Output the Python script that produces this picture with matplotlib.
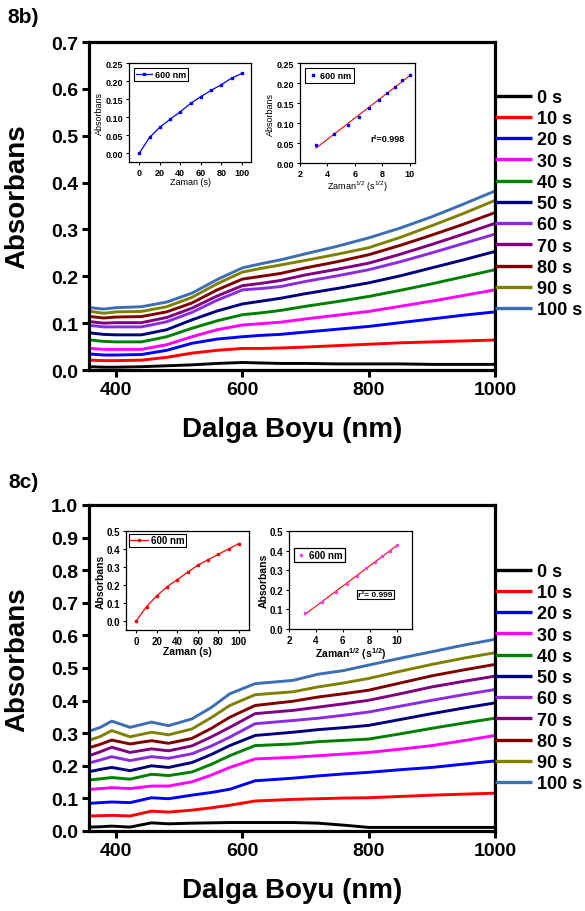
import matplotlib
matplotlib.use('Agg')
import matplotlib.pyplot as plt
import numpy as np

plt.rcParams['font.family'] = ['Liberation Sans', 'DejaVu Sans']
plt.rcParams['mathtext.fontset'] = 'custom'
plt.rcParams['mathtext.rm'] = 'Liberation Sans'
plt.rcParams['mathtext.bf'] = 'Liberation Sans:bold'

# ---------------- data ----------------
labels = ['0 s', '10 s', '20 s', '30 s', '40 s', '50 s', '60 s', '70 s', '80 s', '90 s', '100 s']
colors = ['#000000', '#ff0000', '#0000ff', '#ff00ff', '#008000', '#000080',
          '#8a2be2', '#800080', '#800000', '#808000', '#3c6eb4']

# panel 8b spectra
wl_b = [360, 380, 400, 440, 480, 520, 560, 600, 630, 660, 700, 750, 800, 850, 900, 950, 1000]
b_0s = [.007, .006, .006, .007, .009, .011, .014, .016, .015, .014, .014, .013, .013, .013, .012, .012, .012]
b_10s = [.021, .020, .020, .021, .027, .036, .042, .046, .046, .047, .049, .052, .055, .058, .060, .062, .064]
b_20s = [.034, .032, .032, .033, .042, .057, .066, .071, .074, .076, .081, .087, .093, .101, .109, .117, .124]
b_30s = [.046, .044, .044, .044, .054, .071, .086, .096, .099, .102, .109, .117, .125, .136, .147, .159, .171]
b_40s = [.064, .061, .060, .060, .071, .089, .105, .118, .122, .127, .136, .146, .157, .170, .184, .199, .214]
b_50s = [.079, .076, .075, .075, .086, .107, .126, .141, .147, .153, .163, .174, .186, .201, .218, .235, .253]
b_60s = [.095, .092, .092, .092, .103, .123, .149, .171, .174, .178, .189, .201, .214, .231, .250, .270, .290]
b_70s = [.103, .100, .101, .101, .112, .132, .158, .180, .185, .191, .203, .215, .228, .247, .268, .290, .313]
b_80s = [.114, .111, .113, .114, .124, .143, .171, .194, .200, .206, .218, .231, .246, .266, .288, .311, .336]
b_90s = [.125, .121, .124, .125, .135, .155, .184, .209, .217, .224, .234, .247, .261, .283, .308, .334, .362]
b_100s = [.133, .130, .133, .135, .145, .164, .193, .218, .227, .235, .248, .264, .282, .303, .327, .354, .382]

# panel 8c spectra
wl_c = [360, 375, 393, 422, 456, 483, 520, 550, 580, 620, 680, 720, 760, 800, 850, 900, 950, 1000]
c_0s = [.012, .013, .015, .012, .025, .022, .024, .025, .026, .026, .026, .024, .018, .011, .011, .011, .011, .011]
c_10s = [.046, .047, .048, .046, .061, .058, .064, .071, .079, .092, .097, .099, .101, .102, .106, .110, .113, .116]
c_20s = [.085, .087, .089, .087, .102, .099, .110, .118, .128, .154, .162, .169, .175, .180, .188, .195, .205, .215]
c_30s = [.128, .130, .133, .130, .138, .138, .151, .171, .195, .221, .226, .231, .236, .241, .251, .262, .277, .293]
c_40s = [.157, .160, .164, .159, .174, .170, .181, .204, .231, .262, .267, .274, .278, .282, .298, .315, .331, .346]
c_50s = [.183, .189, .195, .185, .200, .195, .210, .234, .262, .293, .303, .311, .317, .324, .342, .360, .377, .393]
c_60s = [.210, .218, .228, .216, .228, .223, .237, .260, .288, .329, .339, .346, .355, .365, .383, .401, .418, .434]
c_70s = [.233, .243, .257, .241, .252, .246, .261, .288, .318, .360, .370, .380, .390, .401, .421, .442, .459, .475]
c_80s = [.257, .266, .279, .267, .277, .269, .284, .314, .349, .385, .398, .411, .421, .432, .454, .476, .494, .511]
c_90s = [.280, .290, .308, .289, .303, .295, .313, .347, .385, .418, .427, .442, .454, .468, .490, .511, .530, .547]
c_100s = [.308, .318, .337, .318, .334, .323, .344, .378, .421, .452, .462, .481, .492, .509, .530, .550, .570, .588]

# inset data (absorbance at 600 nm vs time)
time_s = [0, 10, 20, 30, 40, 50, 60, 70, 80, 90, 100]
a600_b = [0.000, 0.044, 0.072, 0.094, 0.115, 0.138, 0.157, 0.174, 0.190, 0.208, 0.221]
a600_c = [0.000, 0.080, 0.140, 0.190, 0.230, 0.270, 0.310, 0.340, 0.370, 0.400, 0.430]
r2_b = '0.998'
r2_c = '0.999'

spectra_b = [b_0s, b_10s, b_20s, b_30s, b_40s, b_50s, b_60s, b_70s, b_80s, b_90s, b_100s]
spectra_c = [c_0s, c_10s, c_20s, c_30s, c_40s, c_50s, c_60s, c_70s, c_80s, c_90s, c_100s]

# ---------------- figure ----------------
W, H = 585, 912
fig = plt.figure(figsize=(W / 100, H / 100), dpi=100)


def fx(px):
    return px / W


def fy(py):
    return 1 - py / H


def main_axes(top_px, bot_px, wl, spectra, ymax, leg_top_px):
    ax = fig.add_axes([fx(89), fy(bot_px), fx(495) - fx(89), fy(top_px) - fy(bot_px)])
    for s, c, lab in zip(spectra, colors, labels):
        ax.plot(wl, s, color=c, lw=2.1, label=lab, solid_capstyle='butt')
    ax.set_xlim(357, 1000)
    ax.set_ylim(0, ymax)
    ax.set_xticks([400, 600, 800, 1000])
    ax.set_xticklabels(['400', '600', '800', '1000'])
    yt = np.round(np.arange(0, ymax + 0.001, 0.1), 1)
    ax.set_yticks(yt)
    ax.set_yticklabels(['%.1f' % v for v in yt])
    for sp in ax.spines.values():
        sp.set_linewidth(2.3)
    ax.tick_params(direction='out', length=5, width=2.2, labelsize=14, pad=3)
    for t in ax.get_xticklabels() + ax.get_yticklabels():
        t.set_fontweight('bold')
    ax.set_xlabel('Dalga Boyu (nm)', fontsize=20, fontweight='bold')
    ax.set_ylabel('Absorbans', fontsize=20, fontweight='bold')
    ax.yaxis.set_label_coords(-0.145, 0.53)
    ax.xaxis.set_label_coords(0.5, -0.14)
    leg = ax.legend(loc='upper left', bbox_to_anchor=(fx(495), fy(leg_top_px)),
                    bbox_transform=fig.transFigure, frameon=False,
                    prop={'size': 13, 'weight': 'bold'}, handlelength=2.05,
                    handletextpad=0.3, labelspacing=0.235, borderpad=0, borderaxespad=0)
    for l in leg.get_lines():
        l.set_linewidth(2.4)
    return ax


def style_inset(ax, bold, fs):
    for sp in ax.spines.values():
        sp.set_linewidth(0.9)
    ax.tick_params(direction='out', length=2.5, width=0.8, labelsize=fs, pad=1.5)
    for t in ax.get_xticklabels() + ax.get_yticklabels():
        t.set_fontweight('bold')


# ---------- panel 8b ----------
ax_b = main_axes(43, 371, wl_b, spectra_b, 0.7, 90)
fig.text(fx(7), fy(8), '8b)', fontsize=15, fontweight='bold', ha='left', va='top')

ins1 = fig.add_axes([fx(129), fy(163), fx(251) - fx(129), fy(64) - fy(163)])
ins1.plot(time_s, a600_b, color='#0000ff', lw=0.9, marker='s', ms=2.0, label='600 nm')
ins1.set_xlim(-10, 109)
ins1.set_ylim(-0.024, 0.25)
ins1.set_xticks([0, 20, 40, 60, 80, 100])
ins1.set_yticks([0, 0.05, 0.10, 0.15, 0.20, 0.25])
ins1.set_yticklabels(['0.00', '0.05', '0.10', '0.15', '0.20', '0.25'])
style_inset(ins1, False, 6.5)
ins1.set_xlabel('Zaman (s)', fontsize=6.5, labelpad=0.5)
ins1.set_ylabel('Absorbans', fontsize=6.5, labelpad=1)
ins1.legend(loc='upper left', prop={'size': 6.5, 'weight': 'bold'}, fancybox=False,
            edgecolor='black', framealpha=1, handlelength=1.8, handletextpad=0.3,
            borderpad=0.2, borderaxespad=0.6).get_frame().set_linewidth(0.8)

sq_b = np.sqrt(time_s[1:])
ins2 = fig.add_axes([fx(300), fy(164), fx(415) - fx(300), fy(64) - fy(164)])
fit_b = np.polyfit(sq_b, a600_b[1:], 1)
xs_b = np.array([sq_b[0], sq_b[-1]])
ins2.plot(xs_b, np.polyval(fit_b, xs_b), color='#ff0000', lw=0.8)
ins2.plot(sq_b, a600_b[1:], ls='none', marker='s', ms=2.0, color='#0000ff', label='600 nm')
ins2.set_xlim(2, 10.4)
ins2.set_ylim(0, 0.25)
ins2.set_xticks([2, 4, 6, 8, 10])
ins2.set_yticks([0, 0.05, 0.10, 0.15, 0.20, 0.25])
ins2.set_yticklabels(['0.00', '0.05', '0.10', '0.15', '0.20', '0.25'])
style_inset(ins2, False, 6.5)
ins2.set_xlabel(r'Zaman$^{\mathregular{1/2}}$ (s$^{\mathregular{1/2}}$)', fontsize=6.5, labelpad=0.5)
ins2.set_ylabel('Absorbans', fontsize=6.5, labelpad=1)
ins2.legend(loc='upper left', prop={'size': 6.5, 'weight': 'bold'}, fancybox=False,
            edgecolor='black', framealpha=1, handlelength=1.0, handletextpad=0.3,
            borderpad=0.3, borderaxespad=0.6).get_frame().set_linewidth(0.8)
ins2.text(0.61, 0.25, 'r²=' + r2_b, transform=ins2.transAxes, fontsize=6.5,
          fontweight='bold', ha='left', va='center')

# ---------- panel 8c ----------
ax_c = main_axes(506, 832, wl_c, spectra_c, 1.0, 564)
fig.text(fx(8), fy(473), '8c)', fontsize=15, fontweight='bold', ha='left', va='top')

ins3 = fig.add_axes([fx(126), fy(631), fx(249) - fx(126), fy(532) - fy(631)])
ins3.plot(time_s, a600_c, color='#ff0000', lw=0.9, marker='s', ms=2.0, label='600 nm')
ins3.set_xlim(-10, 110)
ins3.set_ylim(-0.05, 0.5)
ins3.set_xticks([0, 20, 40, 60, 80, 100])
ins3.set_yticks([0, 0.1, 0.2, 0.3, 0.4, 0.5])
ins3.set_yticklabels(['0.0', '0.1', '0.2', '0.3', '0.4', '0.5'])
style_inset(ins3, True, 7)
ins3.set_xlabel('Zaman (s)', fontsize=7.5, fontweight='bold', labelpad=0.5)
ins3.set_ylabel('Absorbans', fontsize=7.5, fontweight='bold', labelpad=1)
ins3.legend(loc='upper left', prop={'size': 7, 'weight': 'bold'}, fancybox=False,
            edgecolor='black', framealpha=1, handlelength=1.8, handletextpad=0.3,
            borderpad=0.15, borderaxespad=0.3).get_frame().set_linewidth(0.8)

sq_c = np.sqrt(time_s[1:])
ins4 = fig.add_axes([fx(289), fy(630), fx(412) - fx(289), fy(532) - fy(630)])
fit_c = np.polyfit(sq_c, a600_c[1:], 1)
xs_c = np.array([sq_c[0], sq_c[-1]])
ins4.plot(xs_c, np.polyval(fit_c, xs_c), color='#ff0000', lw=0.8)
ins4.plot(sq_c, a600_c[1:], ls='none', marker='s', ms=2.0, color='#ee44ee', label='600 nm')
ins4.set_xlim(2, 11.15)
ins4.set_ylim(0, 0.5)
ins4.set_xticks([2, 4, 6, 8, 10])
ins4.set_yticks([0, 0.1, 0.2, 0.3, 0.4, 0.5])
ins4.set_yticklabels(['0.0', '0.1', '0.2', '0.3', '0.4', '0.5'])
style_inset(ins4, True, 7)
ins4.set_xlabel(r'Zaman$^{\mathregular{1/2}}$ (s$^{\mathregular{1/2}}$)', fontsize=7.5,
                fontweight='bold', labelpad=0.5)
ins4.set_ylabel('Absorbans', fontsize=7.5, fontweight='bold', labelpad=1)
ins4.legend(loc='center', bbox_to_anchor=(0.25, 0.755), prop={'size': 7, 'weight': 'bold'},
            fancybox=False, edgecolor='black', framealpha=1, handlelength=1.0,
            handletextpad=0.3, borderpad=0.25).get_frame().set_linewidth(0.9)
ins4.text(0.70, 0.35, 'r²= ' + r2_c, transform=ins4.transAxes, fontsize=6,
          fontweight='bold', ha='center', va='center',
          bbox=dict(boxstyle='square,pad=0.15', fc='white', ec='black', lw=0.8))

fig.savefig('out.png', dpi=100)
